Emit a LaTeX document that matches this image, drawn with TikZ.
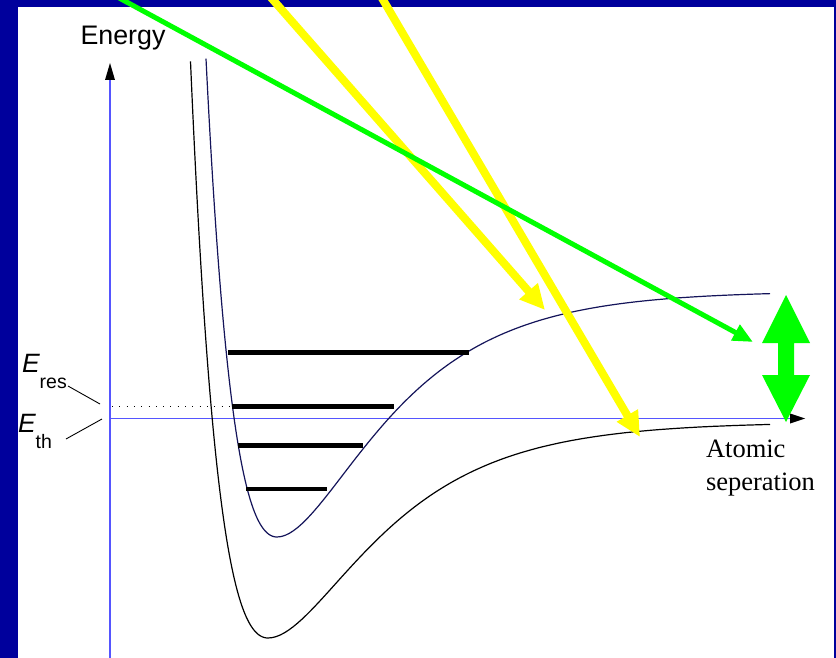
\documentclass[tikz,border=0pt]{standalone}
\usepackage{fontspec}
\setmainfont{Liberation Serif}
\setsansfont{Liberation Sans}
\usetikzlibrary{arrows.meta}
\definecolor{frameblue}{RGB}{0,0,156}
\definecolor{axisblue}{RGB}{85,85,255}
\definecolor{navy}{RGB}{20,20,90}
\definecolor{brightgreen}{RGB}{0,255,0}
\definecolor{brightyellow}{RGB}{255,255,0}
\begin{document}
\begin{tikzpicture}[x=1pt,y=-1pt,
  curve/.style={line width=1.2pt},
  vib/.style={line width=4.8pt, black},
  axis/.style={draw=axisblue, line width=1.8pt},
  axhead/.style={fill=black},
  yarrow/.style={draw=brightyellow, line width=8pt, -{Triangle[length=25pt,width=23pt]}},
  garrow/.style={draw=brightgreen, line width=5pt, -{Triangle[length=20pt,width=17pt]}},
  leader/.style={draw=black, line width=0.9pt},
  lbl/.style={inner sep=0pt, outer sep=0pt, anchor=base west}
]
\useasboundingbox (0,0) rectangle (836,658);
\clip (0,0) rectangle (836,658);
% frame
\fill[frameblue] (0,0) rectangle (836,658);
\fill[white] (17.5,7) rectangle (834,660);

% axes
\coordinate (yb) at (110,660);
\coordinate (yt) at (110,80);
\coordinate (xl) at (110,418.5);
\coordinate (xr) at (790,418.5);
\draw[axis] (yb) -- (yt);
\draw[axis] (xl) -- (xr);
\fill[axhead] (105,80) -- (115,80) -- (110,63) -- cycle;
\fill[axhead] (790,413.5) -- (790,423.5) -- (805,418.5) -- cycle;

% dotted resonance line
\coordinate (d0) at (112,406.5);
\coordinate (d1) at (232,406.5);
\draw[black, line width=0.9pt, dash pattern=on 0.9pt off 6.4pt] (d0) -- (d1);

% potential curves
\draw[curve, navy] plot[domain=206:277, samples=80] (\x, {537 - 246*(1-exp(-0.0123*(\x-277)))^2})
  -- plot[domain=277:770, samples=120] (\x, {537 - 246*(1-exp(-0.0106*(\x-277)))^2});
\draw[curve, black] plot[domain=190.5:268, samples=80] (\x, {638 - 216*(1-exp(-0.0125*(\x-268)))^2})
  -- plot[domain=268:770, samples=120] (\x, {638 - 216*(1-exp(-0.0103*(\x-268)))^2});

% vibrational levels
\coordinate (v1a) at (228,352.5); \coordinate (v1b) at (469,352.5);
\coordinate (v2a) at (232,406.5); \coordinate (v2b) at (394,406.5);
\coordinate (v3a) at (238,445.5); \coordinate (v3b) at (363,445.5);
\coordinate (v4a) at (246,489);   \coordinate (v4b) at (327,489);
\draw[vib] (v1a) -- (v1b);
\draw[vib] (v2a) -- (v2b);
\draw[vib] (v3a) -- (v3b);
\draw[vib] (v4a) -- (v4b);

% labels
\node[lbl, font=\sffamily\fontsize{26.8}{30}\selectfont] (energy) at (80.5,45) {Energy};
\node[lbl, font=\sffamily\fontsize{26.5}{28}\selectfont] (eres) at (22,372) {\itshape E\upshape\raisebox{-16pt}{\fontsize{19.5}{20}\selectfont res}};
\node[lbl, font=\sffamily\fontsize{26.5}{28}\selectfont] (eth) at (18,432) {\itshape E\upshape\raisebox{-16pt}{\fontsize{19.5}{20}\selectfont th}};
\coordinate (lr0) at (68,386); \coordinate (lr1) at (100,404);
\coordinate (lt0) at (66,439); \coordinate (lt1) at (102,419);
\draw[leader] (lr0) -- (lr1);
\draw[leader] (lt0) -- (lt1);
\node[lbl, font=\rmfamily\fontsize{26.5}{30}\selectfont] (atomic) at (706,457) {Atomic};
\node[lbl, font=\rmfamily\fontsize{26.5}{30}\selectfont] (sep) at (706,490) {seperation};

% incoming arrows
\coordinate (y1s) at (267,-7); \coordinate (y1e) at (545,310);
\coordinate (y2s) at (379,-7); \coordinate (y2e) at (640,437);
\coordinate (gs) at (110,-7);  \coordinate (ge) at (753,342);
\draw[yarrow] (y1s) -- (y1e);
\draw[yarrow] (y2s) -- (y2e);
\draw[garrow] (gs) -- (ge);

% double-headed energy spread arrow
\fill[brightgreen] (786,295) -- (810,343) -- (794,343) -- (794,375) -- (810,375) -- (786,422)
  -- (762,375) -- (778,375) -- (778,343) -- (762,343) -- cycle;
\end{tikzpicture}
\end{document}
